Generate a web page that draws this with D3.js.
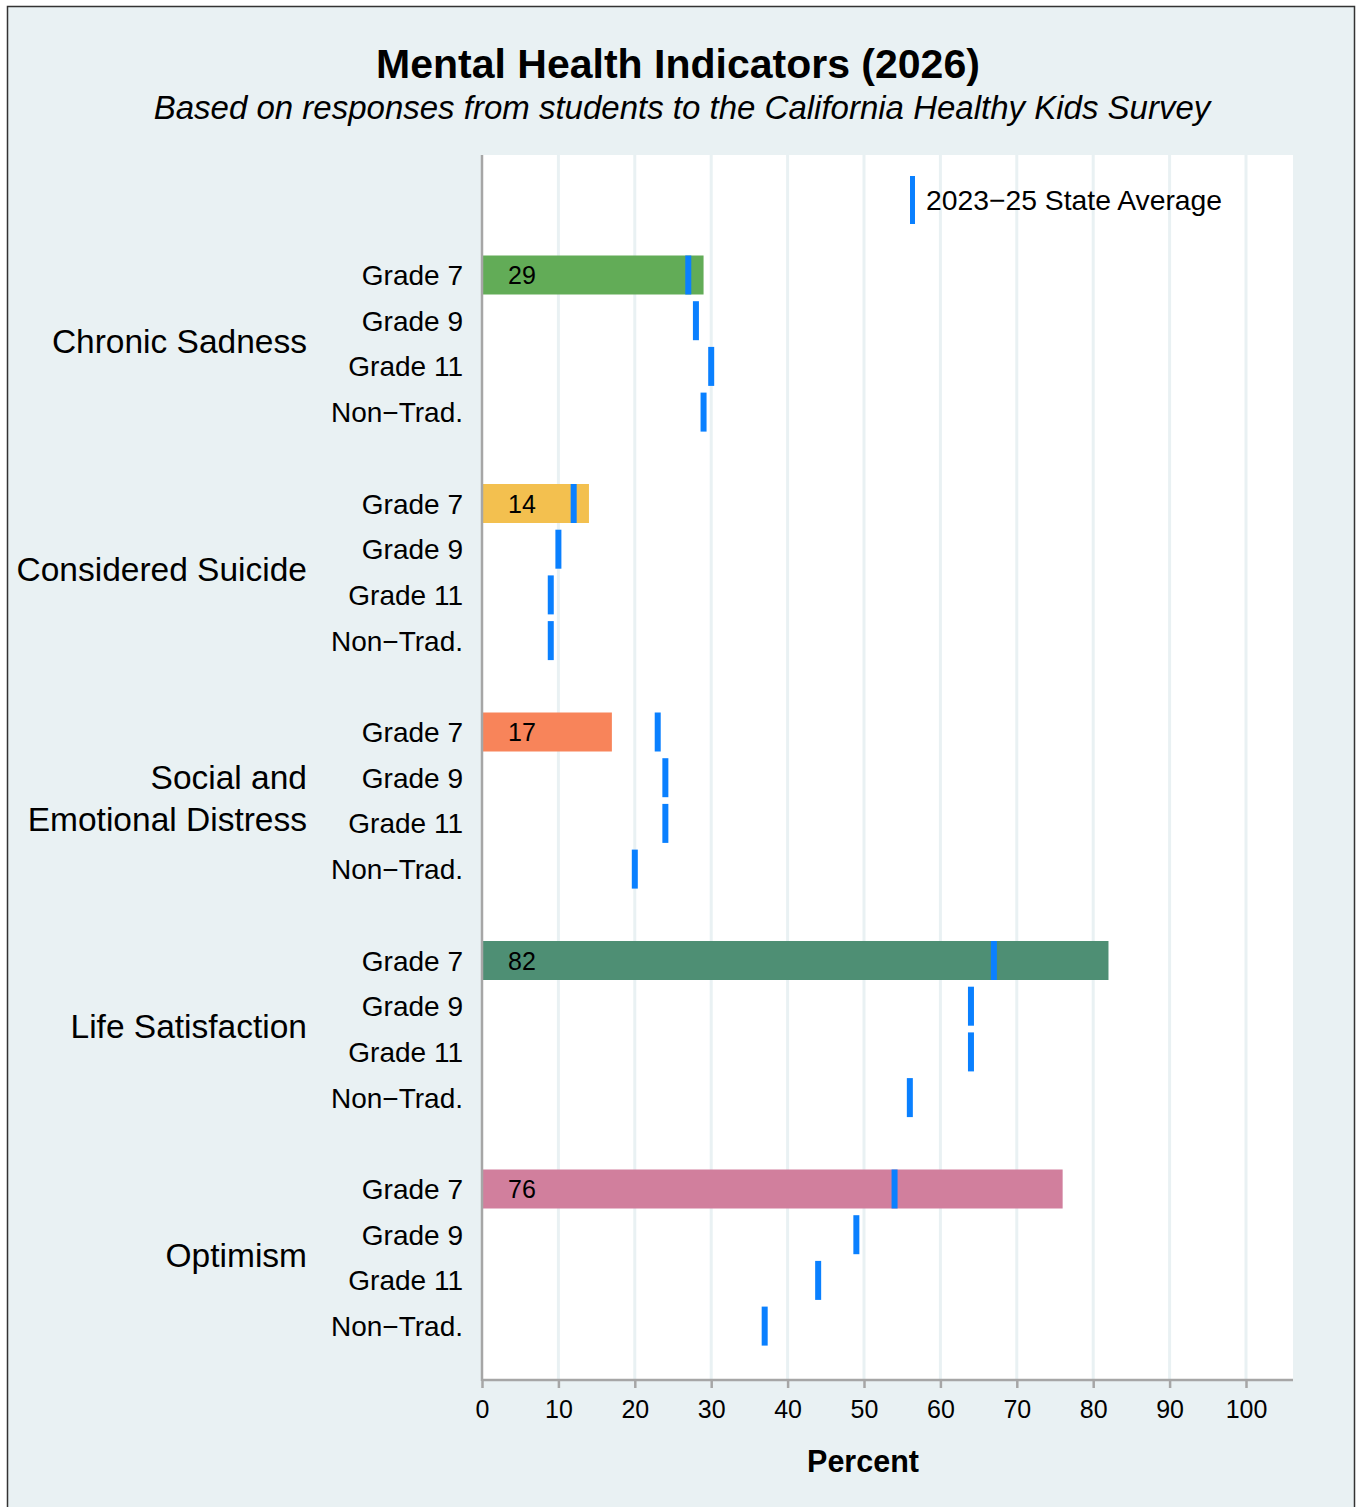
<!DOCTYPE html>
<html>
<head>
<meta charset="utf-8">
<script src="https://cdn.jsdelivr.net/npm/d3@7"></script>
<style>
  html, body { margin: 0; padding: 0; background: #fff; }
  svg { display: block; font-family: "Liberation Sans", Arial, Helvetica, sans-serif; }
</style>
</head>
<body>
<svg id="chart" width="1357" height="1507"></svg>
<script>
// ---- Data ----
const indicators = ["Chronic Sadness", "Considered Suicide", "Social and Emotional Distress", "Life Satisfaction", "Optimism"];
const indicatorLines = [["Chronic Sadness"], ["Considered Suicide"], ["Social and", "Emotional Distress"], ["Life Satisfaction"], ["Optimism"]];
const grades = ["Grade 7", "Grade 9", "Grade 11", "Non\u2212Trad."];
const grade7Values = [29, 14, 17, 82, 76];
const barColors = ["#62ac57", "#f3c04f", "#f8845a", "#4e8f74", "#d17f9d"];
const stateAvg = [
  [27, 28, 30, 29],
  [12, 10, 9, 9],
  [23, 24, 24, 20],
  [67, 64, 64, 56],
  [54, 49, 44, 37]
];
const xTicks = [0, 10, 20, 30, 40, 50, 60, 70, 80, 90, 100];
const legendLabel = "2023\u221225 State Average";
const title = "Mental Health Indicators (2026)";
const subtitle = "Based on responses from students to the California Healthy Kids Survey";
const xLabel = "Percent";

// ---- Layout ----
const W = 1357, H = 1507;
const plot = { left: 482, right: 1293, top: 155, bottom: 1380 };
const svg = d3.select("#chart");

svg.append("rect").attr("x", 0).attr("y", 0).attr("width", W).attr("height", H).attr("fill", "#ffffff");
svg.append("rect").attr("x", 7.5).attr("y", 6.5).attr("width", 1347).attr("height", H + 10)
  .attr("fill", "#e9f1f3").attr("stroke", "#333").attr("stroke-width", 1.5);

const x = d3.scaleLinear().domain([0, 100]).range([plot.left, 1246]);
// row index = group*5 + gradeIndex (one spacer row between groups)
const y = d3.scaleLinear().domain([0, 23]).range([275, 1326.1]);
const rowH = 39;

// plot background
svg.append("rect").attr("x", plot.left).attr("y", plot.top)
  .attr("width", plot.right - plot.left).attr("height", plot.bottom - plot.top).attr("fill", "#fff");

// gridlines
svg.append("g").selectAll("line").data(xTicks.slice(1)).join("line")
  .attr("x1", d => x(d)).attr("x2", d => x(d))
  .attr("y1", plot.top).attr("y2", plot.bottom)
  .attr("stroke", "#e9f1f3").attr("stroke-width", 3);

// title
svg.append("text").attr("x", 678).attr("y", 78).attr("text-anchor", "middle")
  .attr("font-size", 41).attr("font-weight", "bold").attr("fill", "#000").text(title);
svg.append("text").attr("x", 682).attr("y", 119).attr("text-anchor", "middle")
  .attr("font-size", 33).attr("font-style", "italic").attr("fill", "#000").text(subtitle);

// bars
const barData = indicators.map((k, i) => ({ i, v: grade7Values[i], c: barColors[i] }));
svg.append("g").selectAll("rect").data(barData).join("rect")
  .attr("x", x(0)).attr("y", d => y(d.i * 5) - rowH / 2)
  .attr("width", d => x(d.v) - x(0)).attr("height", rowH)
  .attr("fill", d => d.c);

svg.append("g").selectAll("text").data(barData).join("text")
  .attr("x", x(0) + 26).attr("y", d => y(d.i * 5) + 9)
  .attr("font-size", 25).attr("fill", "#000").text(d => d.v);

// state average markers
const markers = [];
stateAvg.forEach((arr, gi) => arr.forEach((v, ri) => markers.push({ gi, ri, v })));
svg.append("g").selectAll("rect").data(markers).join("rect")
  .attr("x", d => x(d.v) - 3).attr("y", d => y(d.gi * 5 + d.ri) - 19.5)
  .attr("width", 6).attr("height", 39).attr("fill", "#0a80ff");

// row labels
const rowLabels = [];
indicators.forEach((k, gi) => grades.forEach((g, ri) => rowLabels.push({ gi, ri, g })));
svg.append("g").selectAll("text").data(rowLabels).join("text")
  .attr("x", 463).attr("y", d => y(d.gi * 5 + d.ri) + 10)
  .attr("text-anchor", "end").attr("font-size", 28).attr("fill", "#000").text(d => d.g);

// group labels
indicatorLines.forEach((lines, gi) => {
  const cy = (y(gi * 5) + y(gi * 5 + 3)) / 2 - 3;
  const lh = 42;
  const t = svg.append("text").attr("text-anchor", "end").attr("font-size", 33.5).attr("fill", "#000");
  lines.forEach((ln, li) => {
    t.append("tspan").attr("x", 307)
      .attr("y", cy + 12 + (li - (lines.length - 1) / 2) * lh).text(ln);
  });
});

// axes lines
svg.append("line").attr("x1", plot.left).attr("x2", plot.left).attr("y1", plot.top).attr("y2", plot.bottom + 1)
  .attr("stroke", "#a6a6a6").attr("stroke-width", 2.5);
const xAxis = d3.axisBottom(x).tickValues(xTicks).tickSize(8).tickPadding(12).tickFormat(d3.format("d"));
const ax = svg.append("g").attr("transform", `translate(0,${plot.bottom})`).call(xAxis);
ax.select(".domain").remove();
ax.append("line").attr("x1", plot.left).attr("x2", plot.right).attr("y1", 0).attr("y2", 0)
  .attr("stroke", "#a6a6a6").attr("stroke-width", 2.5);
ax.selectAll(".tick line").attr("stroke", "#a6a6a6").attr("stroke-width", 2.5);
ax.selectAll(".tick text").attr("font-size", 25).attr("fill", "#000")
  .attr("font-family", "'Liberation Sans', Arial, sans-serif");

svg.append("text").attr("x", 863).attr("y", 1472).attr("text-anchor", "middle")
  .attr("font-size", 30.5).attr("font-weight", "bold").attr("fill", "#000").text(xLabel);

// legend
svg.append("rect").attr("x", 910).attr("y", 176).attr("width", 5).attr("height", 48).attr("fill", "#0a80ff");
svg.append("text").attr("x", 926).attr("y", 210).attr("font-size", 28.3).attr("fill", "#000").text(legendLabel);
</script>
</body>
</html>
